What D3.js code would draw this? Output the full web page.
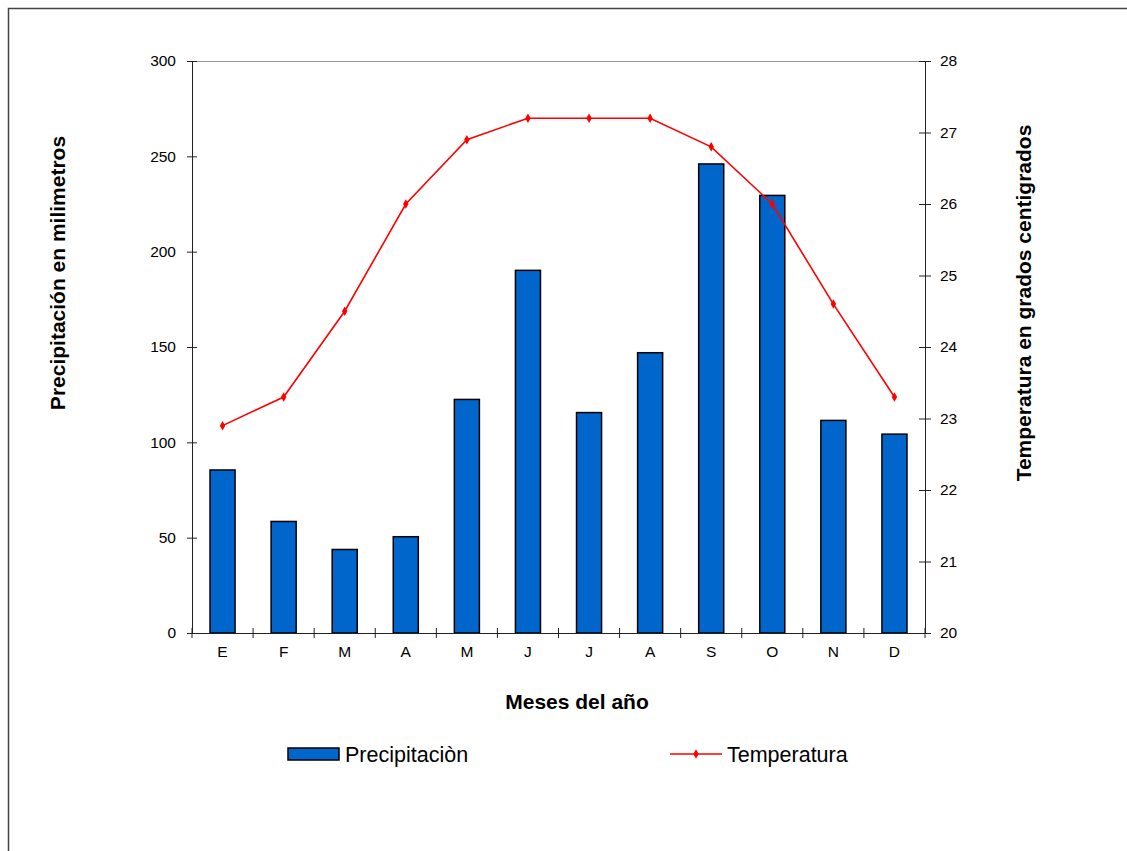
<!DOCTYPE html>
<html>
<head>
<meta charset="utf-8">
<script src="https://cdn.jsdelivr.net/npm/d3@7"></script>
<style>
  body { margin: 0; background: #fff; }
  svg { font-family: "Liberation Sans", Arial, sans-serif; }
  .axis path, .axis line { stroke: #222; }
  .axis text { font-size: 15.5px; fill: #000; }
</style>
</head>
<body>
<div id="chart"></div>
<script>
// data
var months = ["E", "F", "M", "A", "M", "J", "J", "A", "S", "O", "N", "D"];
var precipitation = [85.5, 58.5, 43.8, 50.5, 122.5, 190.2, 115.6, 147, 246, 229.5, 111.5, 104.3];
var temperature = [22.9, 23.3, 24.5, 26.0, 26.9, 27.2, 27.2, 27.2, 26.8, 26.0, 24.6, 23.3];
var precipTicks = [0, 50, 100, 150, 200, 250, 300];
var tempTicks = [20, 21, 22, 23, 24, 25, 26, 27, 28];

var W = 1127, H = 851;
var margin = {top: 61, right: 202, bottom: 218, left: 192};
var width = W - margin.left - margin.right,
    height = H - margin.top - margin.bottom;

var svg = d3.select("#chart").append("svg")
    .attr("width", W)
    .attr("height", H);

// outer frame (only left/top visible in the picture)
svg.append("rect")
    .attr("x", 8.5).attr("y", 8.5)
    .attr("width", W + 20).attr("height", H + 20)
    .attr("fill", "none")
    .attr("stroke", "#444")
    .attr("stroke-width", 1.5);

var g = svg.append("g")
    .attr("transform", "translate(" + margin.left + "," + margin.top + ")");

// index band so that the repeated month letters stay distinct
var x = d3.scaleBand()
    .domain(d3.range(months.length))
    .range([0, width])
    .paddingInner(0.59)
    .paddingOuter(0.295);

var xCat = d3.scaleBand()
    .domain(d3.range(months.length))
    .range([0, width]);

var yL = d3.scaleLinear().domain([0, 300]).range([height, 0]);
var yR = d3.scaleLinear().domain([20, 28]).range([height, 0]);

// top border of plot area
g.append("line")
    .attr("x1", 0).attr("x2", width)
    .attr("y1", 0.5).attr("y2", 0.5)
    .attr("stroke", "#999");

// bars
g.selectAll(".bar")
    .data(precipitation)
    .enter().append("rect")
    .attr("class", "bar")
    .attr("x", function(d, i) { return x(i); })
    .attr("width", x.bandwidth())
    .attr("y", function(d) { return yL(d); })
    .attr("height", function(d) { return height - yL(d); })
    .attr("fill", "#0066cc")
    .attr("stroke", "#000")
    .attr("stroke-width", 1.5);

// axes
var xAxis = g.append("g")
    .attr("class", "axis")
    .attr("transform", "translate(0," + height + ")")
    .call(d3.axisBottom(xCat).tickSize(0).tickPadding(13)
        .tickFormat(function(i) { return months[i]; }));
xAxis.select(".domain").remove();
g.append("line")
    .attr("x1", 0).attr("x2", width)
    .attr("y1", height + 0.5).attr("y2", height + 0.5)
    .attr("stroke", "#222");
// tick marks between categories
g.selectAll(".xtick")
    .data(d3.range(months.length + 1))
    .enter().append("line")
    .attr("class", "xtick")
    .attr("x1", function(i) { return i * xCat.step(); })
    .attr("x2", function(i) { return i * xCat.step(); })
    .attr("y1", height - 5).attr("y2", height + 5)
    .attr("stroke", "#222");

var left = g.append("g")
    .attr("class", "axis")
    .call(d3.axisLeft(yL).tickValues(precipTicks).tickSize(5).tickSizeOuter(0).tickPadding(11));
left.selectAll(".tick line").attr("x1", 5).attr("x2", -5);

var right = g.append("g")
    .attr("class", "axis")
    .attr("transform", "translate(" + width + ",0)")
    .call(d3.axisRight(yR).tickValues(tempTicks).tickSize(6).tickSizeOuter(0).tickPadding(9));
right.selectAll(".tick line").attr("x1", -6).attr("x2", 6);

// temperature line
var line = d3.line()
    .x(function(d, i) { return xCat(i) + xCat.bandwidth() / 2; })
    .y(function(d) { return yR(d); });

g.append("path")
    .datum(temperature)
    .attr("d", line)
    .attr("fill", "none")
    .attr("stroke", "#ff0000")
    .attr("stroke-width", 1.6);

g.selectAll(".pt")
    .data(temperature)
    .enter().append("path")
    .attr("class", "pt")
    .attr("d", d3.symbol().type(d3.symbolDiamond).size(26))
    .attr("transform", function(d, i) {
        return "translate(" + (xCat(i) + xCat.bandwidth() / 2) + "," + yR(d) + ")";
    })
    .attr("fill", "#ff0000");

// axis titles
svg.append("text")
    .attr("transform", "translate(65,273) rotate(-90)")
    .attr("text-anchor", "middle")
    .style("font-size", "21px").style("font-weight", "bold")
    .text("Precipitación en milimetros");

svg.append("text")
    .attr("transform", "translate(1031,303) rotate(-90)")
    .attr("text-anchor", "middle")
    .style("font-size", "21px").style("font-weight", "bold")
    .text("Temperatura en grados centigrados");

svg.append("text")
    .attr("x", 577).attr("y", 709)
    .attr("text-anchor", "middle")
    .style("font-size", "21px").style("font-weight", "bold")
    .text("Meses del año");

// legend
var leg = svg.append("g");
leg.append("rect")
    .attr("x", 288).attr("y", 748)
    .attr("width", 51).attr("height", 12)
    .attr("fill", "#0066cc").attr("stroke", "#000").attr("stroke-width", 1.5);
leg.append("text")
    .attr("x", 345).attr("y", 762)
    .style("font-size", "21.5px")
    .text("Precipitaciòn");
leg.append("line")
    .attr("x1", 670).attr("x2", 722)
    .attr("y1", 754).attr("y2", 754)
    .attr("stroke", "#ff0000").attr("stroke-width", 1.6);
leg.append("path")
    .attr("d", d3.symbol().type(d3.symbolDiamond).size(26))
    .attr("transform", "translate(696,754)")
    .attr("fill", "#ff0000");
leg.append("text")
    .attr("x", 727).attr("y", 762)
    .style("font-size", "21.5px")
    .text("Temperatura");
</script>
</body>
</html>
